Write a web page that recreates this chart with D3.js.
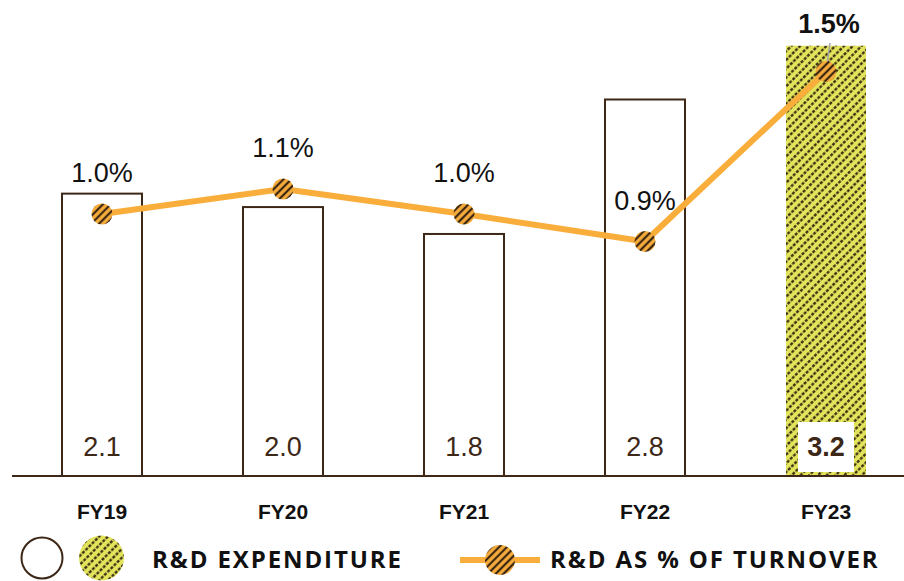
<!DOCTYPE html>
<html><head><meta charset="utf-8">
<script src="https://cdn.jsdelivr.net/npm/d3@7"></script>
<style>body{margin:0;background:#fff}svg{display:block}</style>
</head><body>
<svg id="c" width="904" height="581"></svg>
<script>
const years = ["FY19","FY20","FY21","FY22","FY23"];
const spend = [2.1, 2.0, 1.8, 2.8, 3.2];
const spendLabels = ["2.1","2.0","1.8","2.8","3.2"];
const pct = [1.0, 1.1, 1.0, 0.89, 1.57];
const pctLabels = ["1.0%","1.1%","1.0%","0.9%","1.5%"];
const legendNames = ["R&D EXPENDITURE","R&D AS % OF TURNOVER"];

const brown = "#3d2717", orange = "#F9AE3B", yellow = "#E2E45C";
const svg = d3.select("#c");
const defs = svg.append("defs");
const hp = defs.append("pattern").attr("id","hatch").attr("patternUnits","userSpaceOnUse")
  .attr("width",9).attr("height",6.2).attr("patternTransform","rotate(-45)");
hp.append("rect").attr("width",9).attr("height",6.2).attr("fill",yellow);
hp.append("line").attr("x1",0).attr("x2",9).attr("y1",3.1).attr("y2",3.1)
  .attr("stroke","#34240f").attr("stroke-width",2.4).attr("stroke-dasharray","3,1.5");
const mp = defs.append("pattern").attr("id","mhatch").attr("patternUnits","userSpaceOnUse")
  .attr("width",8).attr("height",5.5).attr("patternTransform","rotate(-45)");
mp.append("rect").attr("width",8).attr("height",5.5).attr("fill",orange);
mp.append("line").attr("x1",0).attr("x2",8).attr("y1",2.75).attr("y2",2.75)
  .attr("stroke","#3a2412").attr("stroke-width",2.2);

const x = d3.scaleBand().domain(years).range([11.5, 916.5]).paddingInner(0.558).paddingOuter(0.279);
const y = d3.scaleLinear().domain([0, 3.54]).range([476, 0]);
const yp = d3.scaleLinear().domain([0, 1]).range([464, 214]);
const cx = d => x(d) + x.bandwidth()/2;

// bars
svg.selectAll("rect.bar").data(years).join("rect").attr("class","bar")
  .attr("x", d => x(d)).attr("width", x.bandwidth())
  .attr("y", (d,i) => y(spend[i])).attr("height", (d,i) => y(0) - y(spend[i]))
  .attr("fill", (d,i) => i === 4 ? "url(#hatch)" : "#fff")
  .attr("stroke", (d,i) => i === 4 ? "none" : brown).attr("stroke-width", 2);

// white box for last value
svg.append("rect").attr("x", cx(years[4]) - 28).attr("y", 422).attr("width", 56).attr("height", 50).attr("fill","#fff");

// axis
const axisG = svg.append("g").attr("transform", `translate(0,${y(0)})`)
  .call(d3.axisBottom(x).tickSize(0).tickPadding(28));
axisG.select(".domain").remove();
axisG.append("line").attr("x1",12).attr("x2",904).attr("stroke",brown).attr("stroke-width",2.2);
axisG.selectAll(".tick text").attr("font-family","Liberation Sans, Arial, sans-serif")
  .attr("font-size",21).attr("font-weight","bold").attr("fill","#111");

// bar value labels
svg.selectAll("text.val").data(years).join("text").attr("class","val")
  .attr("x", d => cx(d)).attr("y", 456).attr("text-anchor","middle")
  .attr("font-family","Liberation Sans, Arial, sans-serif").attr("font-size",27)
  .attr("font-weight", (d,i) => i === 4 ? "bold" : "normal")
  .attr("fill", brown).text((d,i) => spendLabels[i]);

// line
const line = d3.line().x((d,i) => cx(years[i])).y(d => yp(d));
svg.append("path").datum(pct).attr("d", line).attr("fill","none")
  .attr("stroke", orange).attr("stroke-width", 6).attr("stroke-linejoin","round");

// leader line for last label
svg.append("line").attr("x1", cx(years[4]) + 4).attr("y1", 43).attr("x2", cx(years[4])).attr("y2", yp(pct[4]))
  .attr("stroke","#a8a8a8").attr("stroke-width",1.6);

svg.selectAll("circle.m").data(pct).join("circle").attr("class","m")
  .attr("cx", (d,i) => cx(years[i])).attr("cy", d => yp(d)).attr("r", 10.5)
  .attr("fill","url(#mhatch)");

// pct labels
svg.selectAll("text.pct").data(pct).join("text").attr("class","pct")
  .attr("x", (d,i) => cx(years[i]) + (i === 4 ? 3 : 0))
  .attr("y", (d,i) => i === 4 ? 33 : yp(d) - 32)
  .attr("text-anchor","middle").attr("font-family","Liberation Sans, Arial, sans-serif")
  .attr("font-size",27).attr("font-weight", (d,i) => i === 4 ? "bold" : "normal")
  .attr("fill","#111").text((d,i) => pctLabels[i]);

// legend
const lg = svg.append("g");
lg.append("circle").attr("cx",42).attr("cy",558).attr("r",20.5).attr("fill","#fff").attr("stroke",brown).attr("stroke-width",2);
lg.append("circle").attr("cx",101.5).attr("cy",558).attr("r",22.5).attr("fill","url(#hatch)");
lg.append("text").attr("x",152).attr("y",568).attr("font-family","Open Sans, sans-serif").attr("font-weight","bold")
  .attr("font-size",24).attr("letter-spacing",1.9).attr("fill","#111").text(legendNames[0]);
lg.append("line").attr("x1",460).attr("x2",540).attr("y1",560).attr("y2",560).attr("stroke",orange).attr("stroke-width",6);
lg.append("circle").attr("cx",500).attr("cy",560).attr("r",15).attr("fill","url(#mhatch)");
lg.append("text").attr("x",550).attr("y",568).attr("font-family","Open Sans, sans-serif").attr("font-weight","bold")
  .attr("font-size",24).attr("letter-spacing",1.9).attr("fill","#111").text(legendNames[1]);
</script>
</body></html>
